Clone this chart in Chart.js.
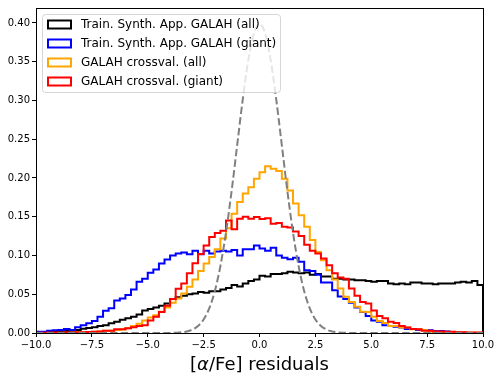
<!DOCTYPE html>
<html><head><meta charset="utf-8">
<script src="https://cdn.jsdelivr.net/npm/chart.js@4/dist/chart.umd.min.js"></script>
<style>html,body{margin:0;padding:0;background:#fff;}canvas{display:block;}</style>
</head><body>
<canvas id="c" width="501" height="381"></canvas>
<script>
// ---- data ----
const BIN_START = -10;
const BIN_WIDTH = 0.25;
const seriesLabels = [
  'Train. Synth. App. GALAH (all)',
  'Train. Synth. App. GALAH (giant)',
  'GALAH crossval. (all)',
  'GALAH crossval. (giant)'
];
const seriesColors = ['#000000', '#0000ff', '#ffa500', '#ff0000'];

const trainAll = [
  0.0012,0.0012,0.0015,0.0015,0.002,0.0025,0.003,0.004,0.0055,0.0065,
  0.0075,0.009,0.010,0.0125,0.0145,0.017,0.019,0.021,0.024,0.029,
  0.031,0.033,0.035,0.038,0.044,0.046,0.048,0.050,0.051,0.053,
  0.052,0.054,0.054,0.056,0.058,0.062,0.060,0.064,0.067,0.069,
  0.074,0.073,0.076,0.076,0.077,0.079,0.078,0.077,0.078,0.075,
  0.076,0.073,0.073,0.070,0.070,0.069,0.069,0.068,0.068,0.067,
  0.066,0.067,0.067,0.064,0.063,0.064,0.063,0.065,0.065,0.064,
  0.064,0.063,0.064,0.064,0.064,0.065,0.066,0.065,0.067,0.062
];
const trainGiant = [
  0.0017,0.0017,0.003,0.0035,0.004,0.005,0.004,0.0073,0.010,0.0125,
  0.0154,0.021,0.0287,0.032,0.042,0.0446,0.049,0.056,0.066,0.070,
  0.0776,0.082,0.0896,0.0948,0.100,0.1025,0.104,0.1016,0.106,0.1016,
  0.106,0.1025,0.105,0.106,0.105,0.107,0.100,0.108,0.108,0.113,
  0.109,0.106,0.110,0.100,0.097,0.095,0.097,0.092,0.081,0.080,
  0.075,0.065,0.065,0.055,0.047,0.044,0.039,0.033,0.027,0.022,
  0.016,0.0146,0.010,0.009,0.008,0.007,0.005,0.005,0.004,0.0038,
  0.0035,0.0025,0.0025,0.002,0.001,0.0005,0.0003,0,0,0
];
const galahAll = [
  0,0,0,0,0,0.0003,0.0003,0.0005,0.0005,0.0008,
  0.0015,0.002,0.003,0.003,0.004,0.0045,0.006,0.009,0.012,0.016,
  0.020,0.023,0.0274,0.033,0.039,0.0446,0.051,0.0596,0.069,0.080,
  0.0896,0.098,0.108,0.122,0.135,0.154,0.169,0.180,0.188,0.199,
  0.2075,0.215,0.212,0.209,0.199,0.184,0.167,0.152,0.137,0.120,
  0.1046,0.094,0.081,0.069,0.0575,0.0467,0.040,0.034,0.0274,0.027,
  0.021,0.0154,0.013,0.009,0.009,0.007,0.007,0.0047,0.0047,0.004,
  0.002,0.0015,0.001,0.001,0.0008,0.0005,0.0005,0.0003,0.0003,0.0003
];
const galahGiant = [
  0.0003,0.0003,0.0005,0.0005,0.0005,0.0008,0.0008,0.001,0.001,0.0013,
  0.0017,0.002,0.003,0.003,0.0047,0.0047,0.006,0.0073,0.009,0.010,
  0.016,0.021,0.027,0.035,0.044,0.057,0.064,0.077,0.090,0.102,
  0.113,0.124,0.129,0.132,0.145,0.134,0.1475,0.150,0.1475,0.1495,
  0.147,0.148,0.141,0.142,0.137,0.136,0.131,0.125,0.114,0.106,
  0.1025,0.096,0.0875,0.077,0.0716,0.070,0.0575,0.048,0.040,0.038,
  0.029,0.022,0.019,0.0146,0.013,0.009,0.007,0.005,0.0047,0.003,
  0.003,0.002,0.002,0.0015,0.0015,0.001,0.001,0.0008,0.0005,0.0005
];
// dashed reference curve, read at these x positions
const gaussX = [-10,-4.5,-4.25,-4,-3.75,-3.5,-3.25,-3,-2.75,-2.5,-2.25,-2,-1.75,-1.5,-1.25,-1,-0.75,-0.5,-0.25,0,
  0.25,0.5,0.75,1,1.25,1.5,1.75,2,2.25,2.5,2.75,3,3.25,3.5,3.75,4,4.25,4.5,10];
const gaussY = [0,0,0.00005,0.0001,0.0004,0.0009,0.002,0.0044,0.0091,0.0175,0.0317,0.054,0.0863,0.1295,0.1826,0.242,0.3011,0.3521,0.3867,0.3989,
  0.3867,0.3521,0.3011,0.242,0.1826,0.1295,0.0863,0.054,0.0317,0.0175,0.0091,0.0044,0.002,0.0009,0.0004,0.0001,0.00005,0,0];

const xTicks = [-10,-7.5,-5,-2.5,0,2.5,5,7.5,10];
const yTicks = [0,0.05,0.10,0.15,0.20,0.25,0.30,0.35,0.40];
// x-axis title pieces: [text, italic?]
const xTitleParts = [['[', false], ['α', true], ['/Fe] residuals', false]];

// ---- build datasets ----
function stepPoints(vals){
  const pts = [{x: BIN_START, y: 0}];
  vals.forEach((v, i) => pts.push({x: BIN_START + i * BIN_WIDTH, y: v}));
  const end = BIN_START + vals.length * BIN_WIDTH;
  pts.push({x: end, y: vals[vals.length - 1]});
  pts.push({x: end, y: 0});
  return pts;
}
const allSeries = [trainAll, trainGiant, galahAll, galahGiant];
const datasets = allSeries.map((vals, k) => ({
  label: seriesLabels[k],
  data: stepPoints(vals),
  borderColor: seriesColors[k],
  borderWidth: 2,
  stepped: true,
  pointRadius: 0,
  fill: false,
  order: 4 - k
}));
datasets.push({
  label: 'gauss',
  data: gaussX.map((x, i) => ({x, y: gaussY[i]})),
  borderColor: '#808080',
  borderWidth: 2,
  borderDash: [7.4, 3.2],
  cubicInterpolationMode: 'monotone',
  pointRadius: 0,
  fill: false,
  order: 0
});

const FONT = 'DejaVu Sans';
const framePlugin = {
  id: 'frame',
  afterDatasetsDraw(chart){
    const ctx = chart.ctx;
    ctx.save();
    // legend
    const bx = 42.5, by = 14.5, bw = 238, bh = 78, r = 3;
    ctx.beginPath();
    ctx.moveTo(bx + r, by);
    ctx.lineTo(bx + bw - r, by); ctx.arcTo(bx + bw, by, bx + bw, by + r, r);
    ctx.lineTo(bx + bw, by + bh - r); ctx.arcTo(bx + bw, by + bh, bx + bw - r, by + bh, r);
    ctx.lineTo(bx + r, by + bh); ctx.arcTo(bx, by + bh, bx, by + bh - r, r);
    ctx.lineTo(bx, by + r); ctx.arcTo(bx, by, bx + r, by, r);
    ctx.closePath();
    ctx.fillStyle = 'rgba(255,255,255,0.8)';
    ctx.fill();
    ctx.strokeStyle = 'rgba(204,204,204,0.8)';
    ctx.lineWidth = 1;
    ctx.stroke();
    ctx.font = '12px "' + FONT + '"';
    ctx.textBaseline = 'middle';
    ctx.textAlign = 'left';
    seriesLabels.forEach((lab, k) => {
      const yc = 24.5 + k * 19;
      ctx.strokeStyle = seriesColors[k];
      ctx.lineWidth = 2;
      ctx.strokeRect(48, yc - 4, 23, 8);
      ctx.fillStyle = '#000';
      ctx.fillText(lab, 81, yc + 0.5);
    });
    ctx.restore();
  },
  afterDraw(chart){
    const ctx = chart.ctx, a = chart.chartArea;
    ctx.save();
    ctx.strokeStyle = '#000';
    ctx.lineWidth = 1;
    ctx.strokeRect(Math.round(a.left) + 0.5, Math.round(a.top) + 0.5,
      Math.round(a.right - a.left), Math.round(a.bottom - a.top));
    // x-axis title with italic alpha
    const fontOf = it => (it ? 'italic ' : '') + '18px "' + FONT + '"';
    let total = 0;
    xTitleParts.forEach(([t, it]) => { ctx.font = fontOf(it); total += ctx.measureText(t).width; });
    let x = (a.left + a.right) / 2 - total / 2;
    ctx.fillStyle = '#000';
    ctx.textBaseline = 'alphabetic';
    ctx.textAlign = 'left';
    xTitleParts.forEach(([t, it]) => {
      ctx.font = fontOf(it);
      ctx.fillText(t, x, 370);
      x += ctx.measureText(t).width;
    });
    ctx.restore();
  }
};

new Chart(document.getElementById('c'), {
  type: 'line',
  data: {datasets},
  options: {
    responsive: false,
    animation: false,
    devicePixelRatio: 1,
    layout: {padding: {left: 0, right: 18, top: 7, bottom: 0}},
    plugins: {legend: {display: false}, tooltip: {enabled: false}},
    scales: {
      x: {
        type: 'linear', min: -10, max: 10,
        afterFit(s){ s.height = 48; },
        afterBuildTicks(s){ s.ticks = xTicks.map(v => ({value: v})); },
        grid: {drawOnChartArea: false, drawTicks: true, tickLength: 4, tickColor: '#000'},
        border: {display: true, color: '#000'},
        ticks: {
          color: '#000', font: {family: FONT, size: 10}, padding: 2, maxRotation: 0,
          callback: v => v.toFixed(1).replace('-', '\u2212')
        },
        title: {display: false}
      },
      y: {
        type: 'linear', min: 0, max: 0.4193,
        afterFit(s){ s.width = 36; },
        afterBuildTicks(s){ s.ticks = yTicks.map(v => ({value: v})); },
        grid: {drawOnChartArea: false, drawTicks: true, tickLength: 4, tickColor: '#000'},
        border: {display: true, color: '#000'},
        ticks: {color: '#000', font: {family: FONT, size: 10}, padding: 2,
          callback: v => v.toFixed(2)}
      }
    }
  },
  plugins: [framePlugin]
});
</script>
</body></html>
